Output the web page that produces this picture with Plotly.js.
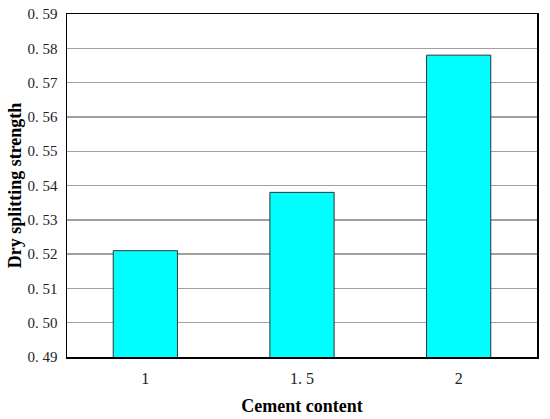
<!DOCTYPE html>
<html><head><meta charset="utf-8">
<script src="https://cdn.plot.ly/plotly-3.0.1.min.js"></script>
<style>html,body{margin:0;padding:0;background:#fff}#chart{width:550px;height:419px}</style>
</head><body><div id="chart"></div>
<script>
const categories = ["1", "1. 5", "2"];
const strength = [0.521, 0.538, 0.578];
const yTickVals = [0.49, 0.50, 0.51, 0.52, 0.53, 0.54, 0.55, 0.56, 0.57, 0.58, 0.59];
const yTickText = ["0. 49", "0. 50", "0. 51", "0. 52", "0. 53", "0. 54", "0. 55", "0. 56", "0. 57", "0. 58", "0. 59"];

const trace = {
  type: 'bar', x: categories, y: strength, width: 0.41,
  marker: {color: '#00ffff', line: {color: '#333333', width: 1}},
  hoverinfo: 'none'
};
const layout = {
  width: 550, height: 419,
  margin: {l: 67, r: 13, t: 14, b: 62},
  paper_bgcolor: '#fff', plot_bgcolor: '#fff',
  showlegend: false,
  font: {family: 'Liberation Serif, serif', color: '#222', size: 15},
  xaxis: {
    type: 'category', showgrid: false, showline: true, linecolor: '#000', linewidth: 1.5, mirror: true,
    ticks: '', tickfont: {size: 16}, ticklabelstandoff: 6,
    title: {text: '<b>Cement content</b>', font: {size: 18, color: '#000'}, standoff: 13}
  },
  yaxis: {
    range: [0.49, 0.59], tickvals: yTickVals, ticktext: yTickText,
    showgrid: true, gridcolor: '#a0a0a0', gridwidth: 1.4, zeroline: false,
    showline: true, linecolor: '#000', linewidth: 1.5, mirror: true,
    ticks: '', tickfont: {size: 15}, ticklabelstandoff: 5,
    title: {text: '<b>Dry splitting strength</b>', font: {size: 18, color: '#000'}, standoff: 1}
  }
};
Plotly.newPlot('chart', [trace], layout, {staticPlot: true});
</script></body></html>
